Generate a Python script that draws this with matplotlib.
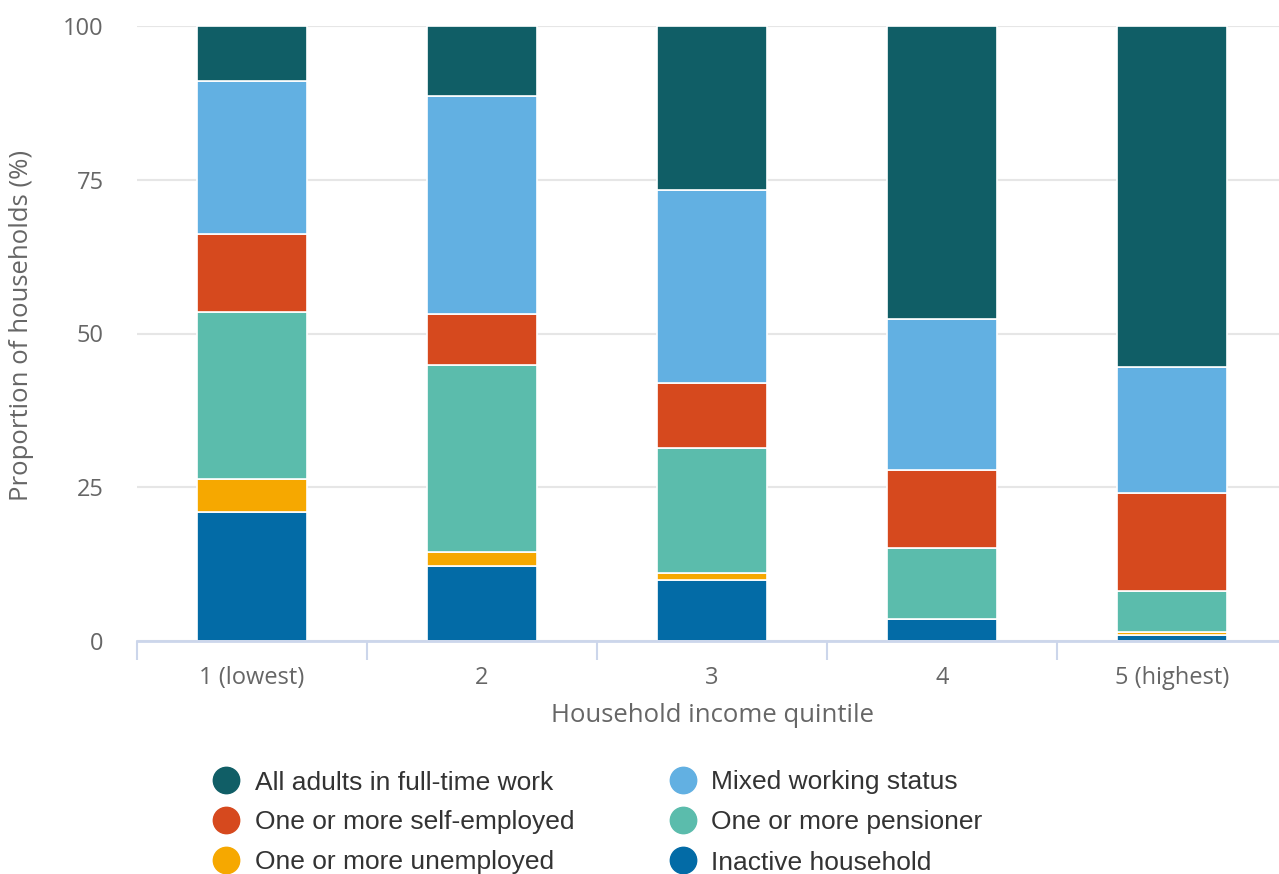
import matplotlib
matplotlib.use("Agg")
import matplotlib.pyplot as plt
from matplotlib.lines import Line2D
import numpy as np

quintiles = ["1 (lowest)", "2", "3", "4", "5 (highest)"]

inactive = [20.9, 12.2, 10.0, 3.5, 1.0]
unemployed = [5.4, 2.3, 1.0, 0.1, 0.4]
pensioner = [27.2, 30.3, 20.4, 11.5, 6.8]
self_employed = [12.7, 8.3, 10.5, 12.7, 15.9]
mixed_status = [24.9, 35.5, 31.5, 24.6, 20.4]
full_time = [8.9, 11.4, 26.6, 47.6, 55.5]

series = [
    ("Inactive household", inactive, "#036ba6"),
    ("One or more unemployed", unemployed, "#f6a800"),
    ("One or more pensioner", pensioner, "#5bbcac"),
    ("One or more self-employed", self_employed, "#d6491e"),
    ("Mixed working status", mixed_status, "#62b0e2"),
    ("All adults in full-time work", full_time, "#105e66"),
]

W, H = 1279, 874
fig = plt.figure(figsize=(W / 100, H / 100), dpi=100)
ax = fig.add_axes([137 / W, (H - 641) / H, 1150 / W, 615 / H])

x = np.arange(len(quintiles))
bottom = np.zeros(len(quintiles))
for name, vals, col in series:
    v = np.array(vals)
    ax.bar(x, v, bottom=bottom, width=0.475, color=col, edgecolor="white",
           linewidth=1.2, zorder=3)
    bottom += v

ax.set_xlim(-0.5, 4.5)
ax.set_ylim(0, 100)
ax.set_yticks([0, 25, 50, 75, 100])

ax.grid(axis="y", color="#e6e6e6", linewidth=1.5, zorder=0)
for s in ["top", "right", "left"]:
    ax.spines[s].set_visible(False)
ax.spines["bottom"].set_color("#ccd6eb")
ax.spines["bottom"].set_linewidth(2)
ax.spines["bottom"].set_zorder(4)

axis_font = "Open Sans"
ax.set_xticks(x)
ax.set_xticklabels(quintiles)
ax.set_xticks(np.arange(-0.5, 4.6, 1.0), minor=True)
ax.tick_params(axis="x", which="major", length=0, pad=18, labelsize=17,
               labelcolor="#666666")
ax.tick_params(axis="x", which="minor", length=14, width=1.5, color="#ccd6eb")
ax.tick_params(axis="y", length=0, pad=24, labelsize=17, labelcolor="#666666")
for lab in ax.get_yticklabels() + ax.get_xticklabels():
    lab.set_fontfamily(axis_font)

fig.text(712 / W, 1 - 716 / H, "Household income quintile", ha="center",
         va="center", fontsize=18.5, color="#666666", family=axis_font)
fig.text(22 / W, 1 - 325 / H, "Proportion of households (%)", ha="center",
         va="center", rotation=90, fontsize=18.5, color="#666666",
         family=axis_font)

# legend laid out in two columns below the axis title
legend_cols = [(226, 255, [5, 3, 1]), (683, 711, [4, 2, 0])]
row_y = [780, 820, 860]
for mx, tx, idxs in legend_cols:
    for yy, i in zip(row_y, idxs):
        name, _, col = series[i]
        fig.add_artist(Line2D([mx / W], [1 - yy / H], transform=fig.transFigure,
                              marker="o", markersize=19, linestyle="none",
                              markerfacecolor=col, markeredgecolor=col))
        fig.text(tx / W, 1 - yy / H, name, ha="left", va="center_baseline",
                 fontsize=19, color="#333333", family="Liberation Sans")

fig.savefig("out.png", dpi=100, facecolor="white")
